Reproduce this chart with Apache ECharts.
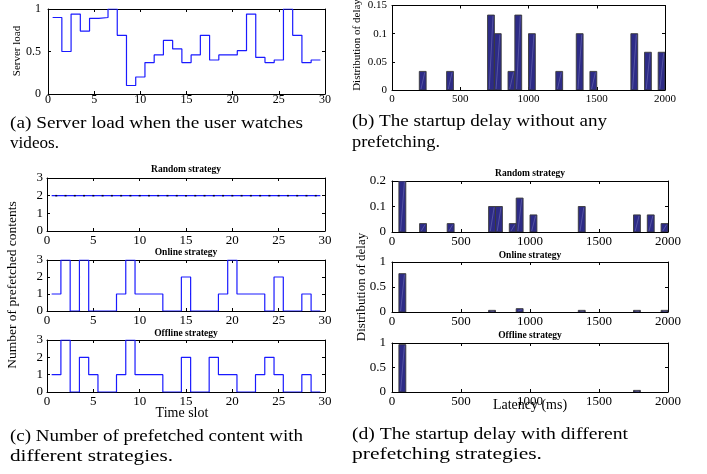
<!DOCTYPE html>
<html><head><meta charset="utf-8">
<script src="https://cdn.jsdelivr.net/npm/echarts@6/dist/echarts.min.js"></script>
<style>html,body{margin:0;padding:0;background:#fff}#c{width:707px;height:474px}</style>
</head><body><div id="c"></div>
<script>
// ---------- data ----------
const slots = [1,2,3,4,5,6,7,8,9,10,11,12,13,14,15,16,17,18,19,20,21,22,23,24,25,26,27,28,29];
const serverLoad = [0.90,0.50,0.94,0.74,0.89,0.90,1.00,0.69,0.10,0.20,0.37,0.46,0.63,0.53,0.37,0.46,0.69,0.40,0.46,0.46,0.51,0.94,0.43,0.37,0.40,1.00,0.69,0.37,0.40];
const randomCount  = [2,2,2,2,2,2,2,2,2,2,2,2,2,2,2,2,2,2,2,2,2,2,2,2,2,2,2,2,2];
const onlineCount  = [1,3,0,3,0,0,0,1,3,1,1,1,0,0,2,0,0,0,1,3,1,1,1,0,2,0,0,1,0];
const offlineCount = [1,3,0,2,1,0,0,1,3,1,1,1,0,0,2,0,0,2,1,1,0,0,1,2,1,0,0,1,0];

const binWidth = 50;
const noPrefetchBins = [200,400,700,750,850,900,1000,1200,1350,1450,1750,1850,1950];
const noPrefetchDist = [0.033,0.033,0.133,0.1,0.033,0.133,0.1,0.033,0.1,0.033,0.1,0.067,0.067];
const randomBins = [50,200,400,700,750,850,900,1000,1350,1750,1850,1950];
const randomDist = [0.2,0.033,0.033,0.1,0.1,0.033,0.133,0.067,0.1,0.067,0.067,0.033];
const onlineBins = [50,700,900,1350,1750,1950];
const onlineDist = [0.767,0.033,0.067,0.033,0.033,0.033];
const offlineBins = [50,1750];
const offlineDist = [0.967,0.033];

const captions = [
  "(a) Server load when the user watches", "videos.",
  "(b) The startup delay without any", "prefetching.",
  "(c) Number of prefetched content with", "different strategies.",
  "(d) The startup delay with different", "prefetching strategies."
];

// ---------- layout ----------
const FONT = '"Liberation Serif","Times New Roman",serif';
const grids = [
  {left:48, top:9, width:277, height:85},    // a
  {left:392, top:5, width:273, height:85},   // b
  {left:47, top:178, width:278, height:53},  // c random
  {left:47, top:260, width:278, height:51},  // c online
  {left:47, top:340, width:278, height:52},  // c offline
  {left:392, top:181, width:276, height:51}, // d random
  {left:392, top:262, width:276, height:50}, // d online
  {left:392, top:343, width:276, height:49}  // d offline
];
const xAxes = [], yAxes = [];
function addAxes(gi, xmin, xmax, xint, ymin, ymax, yint, fs, xm, ym) {
  const line = {onZero:false, lineStyle:{color:'#000', width:1}};
  const tick = {inside:true, length:3, lineStyle:{color:'#000', width:1}};
  const lab = {fontFamily:FONT, fontSize:fs, color:'#000', formatter: v => String(v)};
  xAxes.push({gridIndex:gi, type:'value', min:xmin, max:xmax, interval:xint, position:'bottom',
    axisLine:line, axisTick:tick, axisLabel:Object.assign({margin:xm}, lab), splitLine:{show:false}});
  xAxes.push({gridIndex:gi, type:'value', min:xmin, max:xmax, interval:xint, position:'top',
    axisLine:line, axisTick:tick, axisLabel:{show:false}, splitLine:{show:false}});
  yAxes.push({gridIndex:gi, type:'value', min:ymin, max:ymax, interval:yint, position:'left',
    axisLine:line, axisTick:tick, axisLabel:Object.assign({margin:ym}, lab), splitLine:{show:false}});
  yAxes.push({gridIndex:gi, type:'value', min:ymin, max:ymax, interval:yint, position:'right',
    axisLine:line, axisTick:tick, axisLabel:{show:false}, splitLine:{show:false}});
}
addAxes(0, 0, 30, 5, 0, 1, 0.5, 12, 0, 7);
addAxes(1, 0, 2000, 500, 0, 0.15, 0.05, 11, 4, 5);
addAxes(2, 0, 30, 5, 0, 3, 1, 13, 3, 4);
addAxes(3, 0, 30, 5, 0, 3, 1, 13, 3, 4);
addAxes(4, 0, 30, 5, 0, 3, 1, 13, 3, 4);
addAxes(5, 0, 2000, 500, 0, 0.2, 0.1, 13, 3, 6);
addAxes(6, 0, 2000, 500, 0, 1, 0.5, 13, 3, 6);
addAxes(7, 0, 2000, 500, 0, 1, 0.5, 13, 3, 6);

function stairData(vals) {
  const d = slots.map((s, i) => [s - 0.5, vals[i]]);
  d.push([slots[slots.length - 1] + 0.5, vals[vals.length - 1]]);
  return d;
}
function stairSeries(gi, vals, extra) {
  return Object.assign({type:'line', step:'end', xAxisIndex:2*gi, yAxisIndex:2*gi,
    data:stairData(vals), symbol:'none', lineStyle:{color:'#1a1aff', width:1.2}, silent:true}, extra || {});
}
function histSeries(gi, bins, dist) {
  return {type:'custom', xAxisIndex:2*gi, yAxisIndex:2*gi, clip:true, silent:true,
    data: bins.map((b, i) => [b, dist[i]]),
    encode:{x:0, y:1},
    renderItem: function(params, api) {
      const b = api.value(0), v = api.value(1);
      const p0 = api.coord([b, 0]), p1 = api.coord([b + binWidth, v]);
      const x = p0[0], y = p1[1], w = p1[0] - p0[0], h = p0[1] - p1[1];
      return {type:'group', children:[
        {type:'rect', shape:{x:x, y:y, width:w, height:h},
          style:{fill:'#2d2b86', stroke:'#3a3a3a', lineWidth:0.9}},
        {type:'line', shape:{x1:x + w*0.25, y1:p0[1] - 1, x2:x + w*0.8, y2:y + 1},
          style:{stroke:'rgba(190,190,240,0.45)', lineWidth:0.6}}
      ]};
    }};
}

const series = [
  stairSeries(0, serverLoad),
  histSeries(1, noPrefetchBins, noPrefetchDist),
  stairSeries(2, randomCount),
  {type:'line', xAxisIndex:4, yAxisIndex:4, data: slots.map((s, i) => [s, randomCount[i]]),
    symbol:'rect', symbolSize:[2,1.5], itemStyle:{color:'#000033'}, lineStyle:{width:0}, silent:true},
  stairSeries(3, onlineCount),
  stairSeries(4, offlineCount),
  histSeries(5, randomBins, randomDist),
  histSeries(6, onlineBins, onlineDist),
  histSeries(7, offlineBins, offlineDist)
];

function txt(x, y, s, size) {
  return {type:'text', x:x, y:y, silent:true,
    style:{text:s, fontFamily:FONT, fontSize:size, fill:'#000', align:'center', verticalAlign:'middle'}};
}
function vtxt(x, y, s, size) {
  return {type:'text', x:x, y:y, rotation:Math.PI/2, silent:true,
    style:{text:s, fontFamily:FONT, fontSize:size, fill:'#000', align:'center', verticalAlign:'middle'}};
}
function ttl(x, y, s) {
  return {type:'text', x:x, y:y, silent:true,
    style:{text:s, fontFamily:FONT, fontSize:9.5, fontWeight:'bold', fill:'#000', align:'center', verticalAlign:'middle'}};
}
const CAP_FS = 16;
const measureCtx = document.createElement('canvas').getContext('2d');
measureCtx.font = CAP_FS + 'px ' + FONT;
// caption line stretched horizontally to span [x, right]
function capFit(x, right, y, s) {
  const w = measureCtx.measureText(s).width;
  return {type:'text', x:x, y:y, scaleX:(right - x) / w, silent:true,
    style:{text:s, fontFamily:FONT, fontSize:CAP_FS, fill:'#000', align:'left', verticalAlign:'middle'}};
}

const graphic = [
  vtxt(17, 51, 'Server load', 11),
  vtxt(357, 45, 'Distribution of delay', 11),
  vtxt(12, 285, 'Number of prefetched contents', 13.5),
  vtxt(362, 287, 'Distribution of delay', 13),
  txt(182, 413, 'Time slot', 14),
  txt(530, 405, 'Latency (ms)', 14),
  ttl(186, 170, 'Random strategy'),
  ttl(186, 253, 'Online strategy'),
  ttl(186, 334, 'Offline strategy'),
  ttl(530, 174, 'Random strategy'),
  ttl(530, 256, 'Online strategy'),
  ttl(530, 336, 'Offline strategy'),
  capFit(10, 303, 124, captions[0]), capFit(10, 59, 144, captions[1]),
  capFit(352, 607, 122, captions[2]), capFit(352, 440, 143, captions[3]),
  capFit(10, 303, 437, captions[4]), capFit(10, 173, 457, captions[5]),
  capFit(352, 628, 435, captions[6]), capFit(352, 542, 455, captions[7])
];

const chart = echarts.init(document.getElementById('c'), null, {renderer:'canvas'});
chart.setOption({
  animation:false,
  backgroundColor:'#fff',
  grid: grids,
  xAxis: xAxes,
  yAxis: yAxes,
  series: series,
  graphic: graphic
});
</script>
</body></html>
